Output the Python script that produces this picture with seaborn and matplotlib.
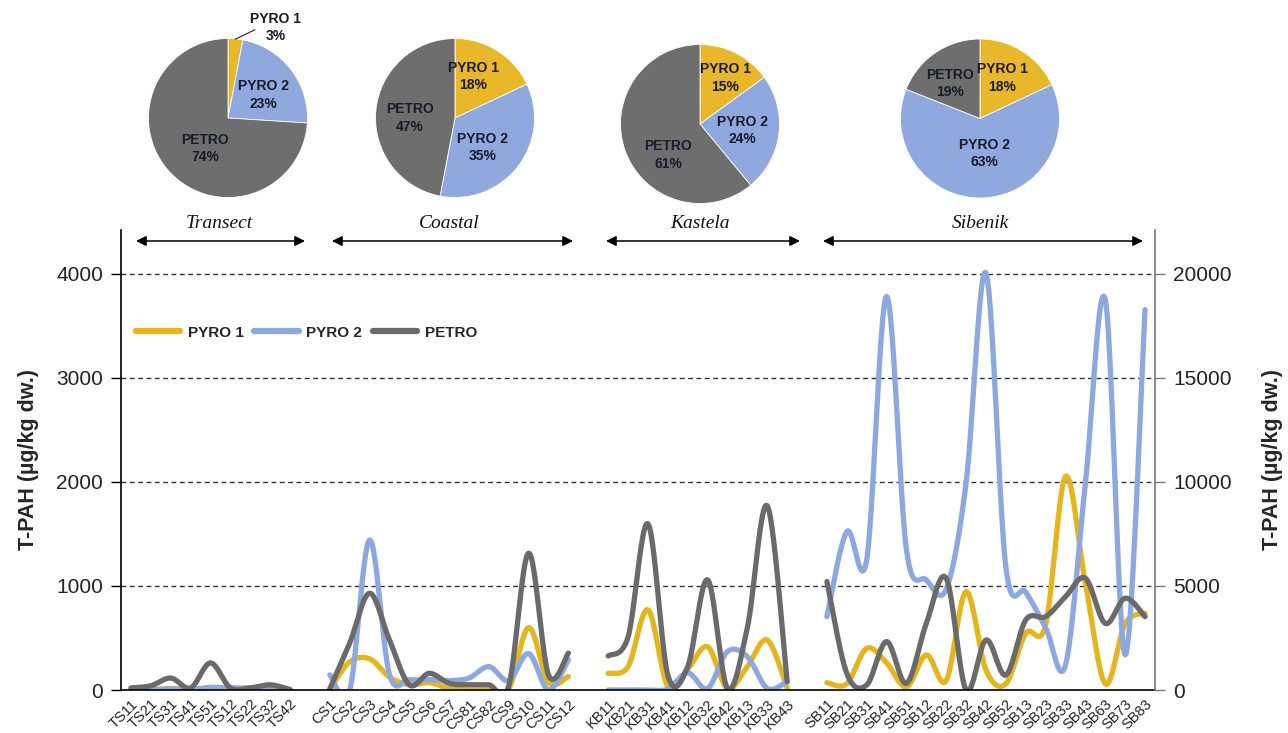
import numpy as np
import pandas as pd
import matplotlib
matplotlib.use("Agg")
import matplotlib.pyplot as plt
from matplotlib.lines import Line2D
import seaborn as sns

# ---------------- data ----------------
labels = ['TS11', 'TS21', 'TS31', 'TS41', 'TS51', 'TS12', 'TS22', 'TS32', 'TS42', '',
          'CS1', 'CS2', 'CS3', 'CS4', 'CS5', 'CS6', 'CS7', 'CS81', 'CS82', 'CS9', 'CS10', 'CS11', 'CS12', '',
          'KB11', 'KB21', 'KB31', 'KB41', 'KB12', 'KB32', 'KB42', 'KB13', 'KB33', 'KB43', '',
          'SB11', 'SB21', 'SB31', 'SB41', 'SB51', 'SB12', 'SB22', 'SB32', 'SB42', 'SB52', 'SB13', 'SB23',
          'SB33', 'SB43', 'SB63', 'SB73', 'SB83']

gap = [np.nan]
pyro1 = ([0, 0, 15, 5, 5, 0, 5, 15, 0] + gap +
         [10, 270, 300, 125, 50, 70, 15, 0, 0, 10, 600, 75, 130] + gap +
         [160, 225, 770, 30, 200, 415, 15, 225, 480, 20] + gap +
         [70, 60, 400, 260, 30, 337, 90, 945, 192, 60, 545, 625, 2051, 1026, 60, 640, 737])
pyro2 = ([0, 5, 10, 5, 25, 20, 20, 25, 5] + gap +
         [145, 0, 1440, 150, 100, 100, 90, 115, 225, 90, 350, 0, 290] + gap +
         [0, 0, 0, 10, 165, 15, 370, 320, 15, 80] + gap +
         [705, 1522, 1250, 3782, 1346, 1058, 970, 1990, 4006, 1180, 940, 600, 240, 1990, 3750, 337, 3654])
petro = ([20, 40, 115, 20, 260, 20, 20, 50, 5] + gap +
         [10, 450, 930, 480, 50, 160, 65, 50, 50, 40, 1315, 145, 355] + gap +
         [327, 510, 1596, 145, 225, 1058, 15, 600, 1770, 80] + gap +
         [1042, 160, 48, 465, 64, 640, 1074, 0, 480, 144, 673, 705, 897, 1074, 640, 882, 705])

series_names = ['PYRO 1', 'PYRO 2', 'PETRO']
regions = ['Transect', 'Coastal', 'Kastela', 'Sibenik']
pie_shares = {
    'Transect': [3, 23, 74],
    'Coastal': [18, 35, 47],
    'Kastela': [15, 24, 61],
    'Sibenik': [18, 63, 19],
}

colors = {'PYRO 1': '#E5B51E', 'PYRO 2': '#8DA8E0', 'PETRO': '#6A6A6A'}
pie_colors = ['#E8B82A', '#8FA9DF', '#6E6E6E']

# ---------------- style ----------------
sns.set_theme(style="white")
plt.rcParams['font.family'] = ['Liberation Sans', 'DejaVu Sans']

W, H = 1288, 733
fig = plt.figure(figsize=(W / 100, H / 100), dpi=100)


def fx(px):
    return px / W


def fy(py):
    return 1 - py / H


# main axes
ax_l, ax_r, ax_b, ax_t = 121, 1155, 690, 230
ax = fig.add_axes([fx(ax_l), fy(ax_b), fx(ax_r - ax_l), (ax_b - ax_t) / H])
ymax = 4420


def smooth_segment(xs, ys, n=24):
    pts = np.column_stack([xs, ys]).astype(float)
    out = []
    m = len(pts)
    if m == 1:
        return pts
    for i in range(m - 1):
        p0 = pts[i - 1] if i > 0 else pts[i]
        p1 = pts[i]
        p2 = pts[i + 1]
        p3 = pts[i + 2] if i + 2 < m else pts[i + 1]
        c1 = p1 + (p2 - p0) / 6.0
        c2 = p2 - (p3 - p1) / 6.0
        t = np.linspace(0, 1, n, endpoint=(i == m - 2))[:, None]
        seg = ((1 - t) ** 3) * p1 + 3 * (1 - t) ** 2 * t * c1 + 3 * (1 - t) * t ** 2 * c2 + t ** 3 * p2
        out.append(seg)
    return np.vstack(out)


x_all = np.arange(len(labels))
rows = []
for name, vals in zip(series_names, [pyro1, pyro2, petro]):
    vals = np.array(vals, dtype=float)
    seg_id = 0
    cur_x, cur_y = [], []
    for xi, v in zip(x_all, vals):
        if np.isnan(v):
            if cur_x:
                sm = smooth_segment(cur_x, cur_y)
                for px, py in sm:
                    rows.append((px, py, name, f"{name}-{seg_id}"))
                seg_id += 1
            cur_x, cur_y = [], []
        else:
            cur_x.append(xi)
            cur_y.append(v)
    if cur_x:
        sm = smooth_segment(cur_x, cur_y)
        for px, py in sm:
            rows.append((px, py, name, f"{name}-{seg_id}"))

df = pd.DataFrame(rows, columns=['x', 'y', 'series', 'seg'])
sns.lineplot(data=df, x='x', y='y', hue='series', units='seg', estimator=None, sort=False,
             hue_order=series_names, palette=colors, linewidth=3.8, legend=False, ax=ax,
             solid_capstyle='round', solid_joinstyle='round')

ax.set_xlim(-0.5, len(labels) - 0.5)
ax.set_ylim(0, ymax)
ax.set_yticks([0, 1000, 2000, 3000, 4000])
ax.set_yticklabels(['0', '1000', '2000', '3000', '4000'], fontsize=15, color='#222222')
for gy in [1000, 2000, 3000, 4000]:
    ax.axhline(gy, color='#333333', lw=1.0, ls=(0, (3.5, 2.5)), zorder=0)
ax.set_xticks(x_all)
ax.set_xticklabels(labels, rotation=45, ha='right', va='top', rotation_mode='anchor',
                   fontsize=10.5, color='#222222')
ax.set_xticks(np.arange(-0.5, len(labels)), minor=True)
ax.tick_params(axis='x', which='major', length=0, pad=5)
ax.tick_params(axis='x', which='minor', length=5, width=1.0, color='black', direction='out')
ax.tick_params(axis='y', length=7, width=1.0, color='black', direction='out', pad=6, left=True)
ax.set_xlabel('')
ax.set_ylabel('T-PAH (µg/kg dw.)', fontsize=15.5, fontweight='bold', labelpad=12)
ax.spines['top'].set_visible(False)
ax.spines['right'].set_visible(False)
ax.spines['left'].set_color('black')
ax.spines['bottom'].set_color('black')
ax.spines['left'].set_linewidth(1.2)
ax.spines['bottom'].set_linewidth(1.2)

ax2 = ax.twinx()
ax2.set_ylim(0, ymax * 5)
ax2.set_yticks([0, 5000, 10000, 15000, 20000])
ax2.set_yticklabels(['0', '5000', '10000', '15000', '20000'], fontsize=15, color='#222222')
ax2.tick_params(axis='y', length=7, width=1.0, color='#777777', direction='out', pad=6, right=True)
ax2.spines['top'].set_visible(False)
ax2.spines['left'].set_visible(False)
ax2.spines['bottom'].set_visible(False)
ax2.spines['right'].set_color('#777777')
ax2.spines['right'].set_linewidth(1.2)
ax2.set_ylabel('T-PAH (µg/kg dw.)', fontsize=15.5, fontweight='bold', labelpad=22)
ax2.grid(False)
ax.grid(False)

# legend
handles = [Line2D([0], [0], color=colors[n], lw=4.5, solid_capstyle='round') for n in series_names]
ax.legend(handles, series_names, ncol=3, frameon=False, loc='upper left',
          bbox_to_anchor=(fx(122), fy(312)), bbox_transform=fig.transFigure,
          handlelength=2.9, handletextpad=0.5, columnspacing=0.7,
          prop={'weight': 'bold', 'size': 11})

# region arrows and names
arrow_spans = {'Transect': (136, 305), 'Coastal': (332, 573), 'Kastela': (606, 800), 'Sibenik': (823, 1143)}
text_x = {'Transect': 219, 'Coastal': 449, 'Kastela': 700, 'Sibenik': 980}
for r in regions:
    x0, x1 = arrow_spans[r]
    fig.add_artist(matplotlib.patches.FancyArrowPatch(
        (fx(x0), fy(241)), (fx(x1), fy(241)), transform=fig.transFigure,
        arrowstyle='<|-|>,head_length=6,head_width=3', color='black', lw=1.1,
        shrinkA=0, shrinkB=0))
    fig.text(fx(text_x[r]), fy(224), r, ha='center', va='center', fontsize=14,
             style='italic', family=['Liberation Serif', 'DejaVu Serif'], color='#111111')

# pies
pie_centers = {'Transect': (228, 118), 'Coastal': (455, 118), 'Kastela': (700, 124), 'Sibenik': (980, 118.5)}
pie_r = 79.5
label_pos = {
    'Transect': [(0.60, 1.14), (0.44, 0.29), (-0.29, -0.38)],
    'Coastal': [(0.23, 0.52), (0.35, -0.37), (-0.57, 0.0)],
    'Kastela': [(0.32, 0.58), (0.53, -0.08), (-0.40, -0.39)],
    'Sibenik': [(0.28, 0.51), (0.06, -0.44), (-0.38, 0.44)],
}
for r in regions:
    cx, cy = pie_centers[r]
    pax = fig.add_axes([fx(cx - pie_r), fy(cy + pie_r), 2 * pie_r / W, 2 * pie_r / H])
    pax.pie(pie_shares[r], colors=pie_colors, startangle=90, counterclock=False,
            wedgeprops={'linewidth': 0.6, 'edgecolor': 'white'}, radius=1)
    pax.set_xlim(-1, 1)
    pax.set_ylim(-1, 1)
    pax.set_aspect('equal')
    pax.axis('off')
    for name, val, (dx, dy) in zip(series_names, pie_shares[r], label_pos[r]):
        pax.text(dx, dy, f"{name}\n{val}%", ha='center', va='center', fontsize=10,
                 fontweight='bold', color='#1a1a2a', linespacing=1.3, clip_on=False)
    if r == 'Transect':
        pax.plot([0.09, 0.34], [0.99, 1.11], color='#222222', lw=0.8, clip_on=False)

fig.savefig('out.png', dpi=100)
